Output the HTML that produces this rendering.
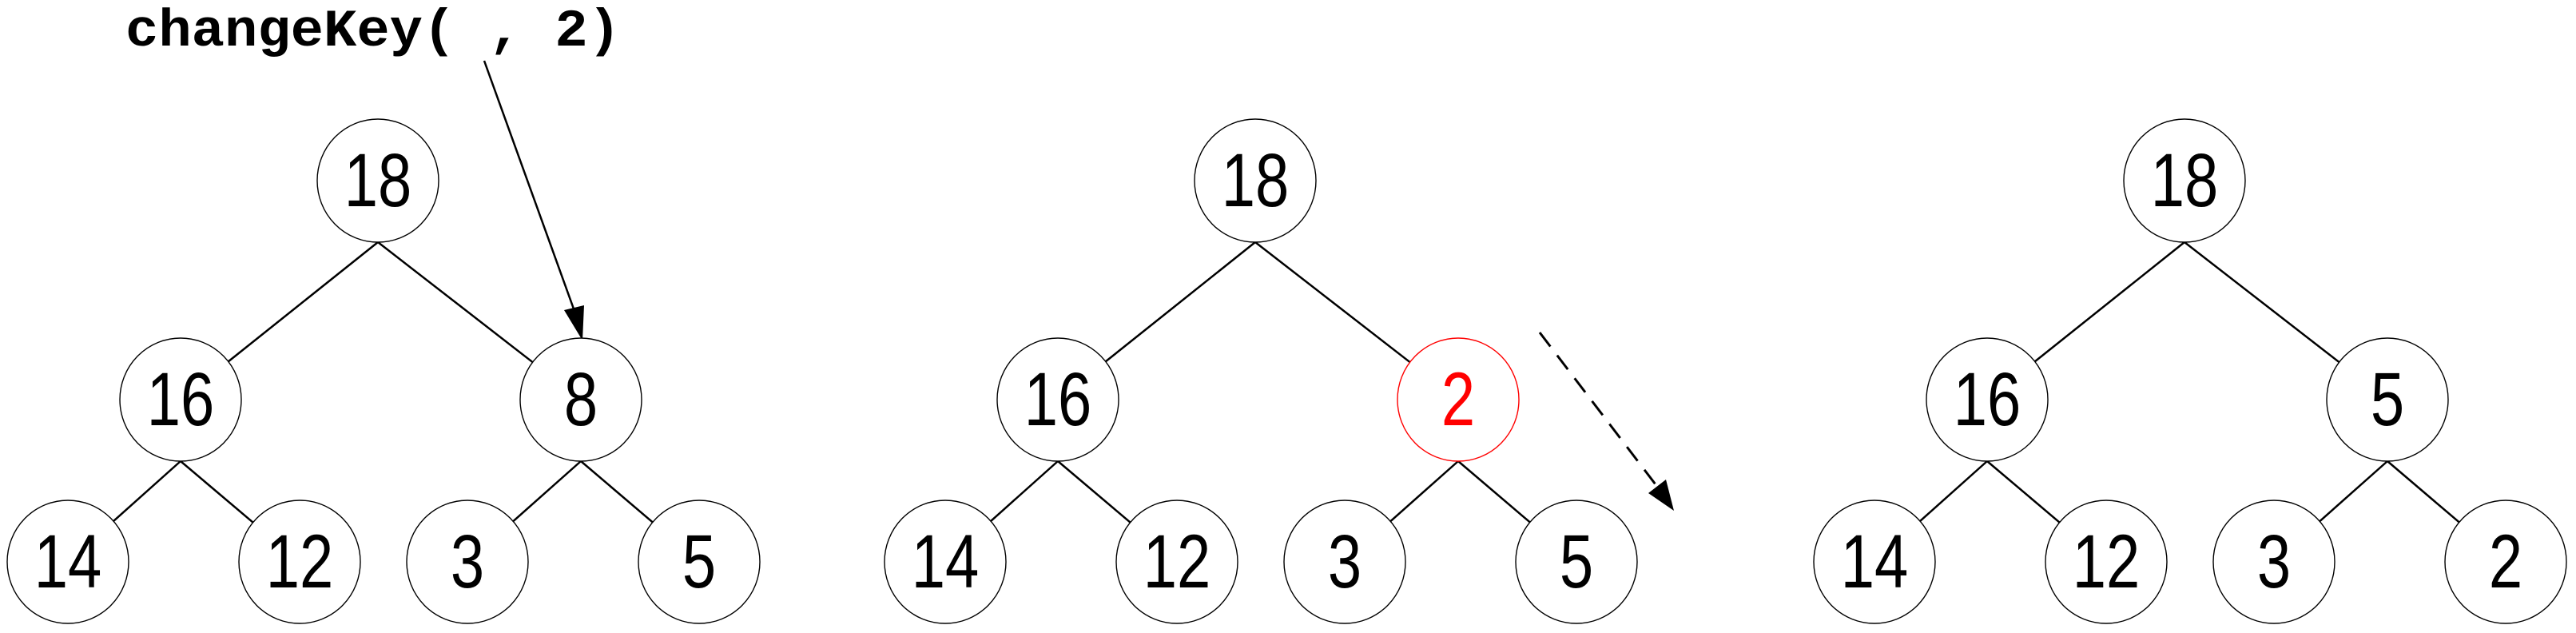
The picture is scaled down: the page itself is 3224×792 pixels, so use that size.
<!DOCTYPE html>
<html><head><meta charset="utf-8"><style>
html,body{margin:0;padding:0;background:#fff;width:3224px;height:792px;overflow:hidden}
svg{display:block}
</style></head><body>
<svg id="fig" width="3224" height="792" viewBox="0 0 3224 792" xmlns="http://www.w3.org/2000/svg">
<text x="157" y="57" font-family="'Liberation Mono', monospace" font-weight="bold" font-size="66" textLength="620" lengthAdjust="spacingAndGlyphs" fill="#000">changeKey( , 2)</text>
<line x1="606" y1="76" x2="720" y2="392" stroke="#000" stroke-width="2.5"/>
<polygon points="729,426 706,388 731,382" fill="#000"/>
<line x1="1927" y1="416" x2="2075" y2="610" stroke="#000" stroke-width="3" stroke-dasharray="22,14"/>
<polygon points="2095,639 2063,617 2085,600" fill="#000"/>
<g id="trees"></g>
</svg>
<script>
const treeOffsets = [0, 1098, 2261];
const tree1Values = ["18","16","8","14","12","3","5"];
const tree2Values = ["18","16","2","14","12","3","5"];
const tree3Values = ["18","16","5","14","12","3","2"];
const highlightNode = [1, 2];
const treeValues = [tree1Values, tree2Values, tree3Values];
const baseX = [473, 226, 727, 85, 375, 585, 875];
const baseY = [226, 500, 500, 703, 703, 703, 703];
const parents = [-1, 0, 0, 1, 1, 2, 2];
const RX = 76, RY = 77;
const NS = "http://www.w3.org/2000/svg";
const g = document.getElementById('trees');
function mk(tag, attrs){const e=document.createElementNS(NS,tag);for(const k in attrs)e.setAttribute(k,attrs[k]);return e;}
treeValues.forEach((vals, t) => {
  const off = treeOffsets[t];
  const tg = mk('g', {});
  
  
  g.appendChild(tg);
  for (let i = 1; i < vals.length; i++) {
    const p = parents[i];
    const x1 = baseX[p] + off, y1 = baseY[p] + RY;
    const cx = baseX[i] + off, cy = baseY[i];
    const dx = x1 - cx, dy = y1 - cy;
    const k = 1 / Math.sqrt((dx*dx)/(RX*RX) + (dy*dy)/(RY*RY));
    const ln = mk('line', {x1:x1, y1:y1, x2:cx + dx*k, y2:cy + dy*k, stroke:'#000', 'stroke-width':2.5});
    
    
    tg.appendChild(ln);
  }
  vals.forEach((v, i) => {
    const hl = highlightNode[0] === t && highlightNode[1] === i;
    const cx = baseX[i] + off, cy = baseY[i];
    const el = mk('ellipse', {cx:cx, cy:cy, rx:RX, ry:RY, fill:'#fff', stroke: hl ? '#ff0000' : '#000', 'stroke-width':1.4});
    
    
    tg.appendChild(el);
    const tx = mk('text', {x:0, y:0, 'text-anchor':'middle', transform:'translate(' + cx + ',' + (cy + 32) + ') scale(0.95,1.18)', 'font-family':"'Liberation Sans', sans-serif", 'font-size':80, fill: hl ? '#ff0000' : '#000'});
    
    
    tx.textContent = v;
    tg.appendChild(tx);
  });
});
</script>
</body></html>
